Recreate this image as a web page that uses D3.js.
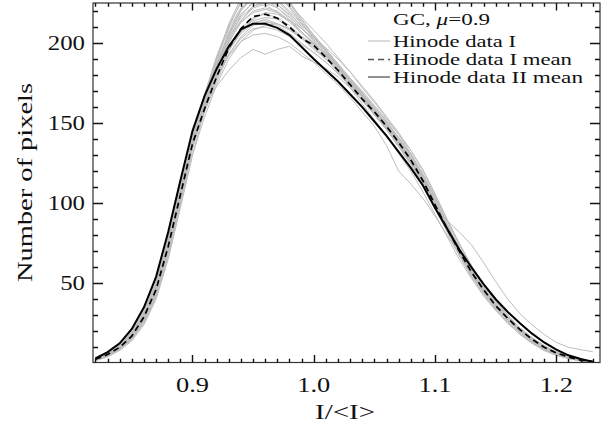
<!DOCTYPE html>
<html>
<head>
<meta charset="utf-8">
<script src="https://cdn.jsdelivr.net/npm/d3@7"></script>
<style>
  body { margin: 0; background: #fff; }
  svg { display: block; font-family: "Liberation Serif", serif; }
</style>
</head>
<body>
<div id="chart"></div>
<script>
// histogram bins, I/<I>
const bins = [0.82,0.83,0.84,0.85,0.86,0.87,0.88,0.89,0.90,0.91,0.92,0.93,0.94,0.95,0.96,0.97,0.98,0.99,1.00,1.01,
  1.02,1.03,1.04,1.05,1.06,1.07,1.08,1.09,1.10,1.11,1.12,1.13,1.14,1.15,1.16,1.17,1.18,1.19,1.20,1.21,1.22,1.23];

// Hinode data I, individual maps (grey)
const hinodeI = [
  [2,4.5,9,15,26,42,68,100,134,160,184,205,220,229,232,230,223,213,204,195,186,176,167,158,149,139,128,115,100,84,69,56,45,35,27,20,14,9,6,3.5,2,1],
  [3,6,11,19,32,50,78,110,140,160,173,183,191,196,193,196,198,192,188,184,179,172,164,156,147,137,126,113,99,85,71,58,47,37,29,22,16,11,7,4,2.5,1.2],
  [2.5,5,10,17,29,47,74,106,137,160,180,196,207,213,214,211,206,200,194,188,181,173,164,155,146,136,125,113,100,89,82,74,63,51,40,31,24,18,13,10,8.5,7.3],
  [2,5,9,16,27,44,70,102,136,163,189,210,226,234,236,233,225,214,205,196,187,177,168,159,150,140,129,116,101,85,70,57,46,36,27,20,14,9.5,6,3.5,2,1],
  [3.5,7,12.5,21,34,53,81,113,143,165,186,201,213,219,221,219,213,206,200,193,185,176,167,158,148,138,127,113,98,83,69,56,45,35,27,20,14,9,6,3.5,2,0.8],
  [1.5,4,8,14,24,40,65,97,130,158,182,200,214,223,226,224,217,209,202,194,186,178,169,160,151,141,130,117,102,86,71,58,46,36,28,21,15,10,6.5,4,2,1],
  [3,6,11,18,31,48,76,108,139,160,178,193,203,209,210,208,204,199,194,188,181,174,166,158,150,141,131,118,104,89,74,61,49,39,30,22,16,11,7,4.5,2.5,1.2],
  [2.5,5,9.5,16.5,28,45,71,104,136,161,183,202,217,226,229,226,219,210,201,192,182,172,162,152,142,131,120,107,93,79,65,53,42,33,25,18,12.5,8,5,3,1.5,0.7],
  [2.5,5.5,10,17,29,46,72,104,136,159,180,197,209,216,218,216,211,204,198,191,183,175,166,157,148,139,128,115,100,85,71,57,46,36,28,21,15,10,6.5,4,2,1],
  [2,5,9.5,16,27,45,70,103,137,163,185,203,214,222,224,219,214,207,199,193,184,176,168,158,149,138,126,114,99,83,69,56,45,35,28,21,14,10,6,4,2,1],
  [3,6.5,12,20,33,51,79,111,141,162,179,192,201,205,206,204,200,194,188,181,174,166,157,148,136,120,112,103,92,80,68,56,45,36,28,21,15,10,6.5,4,2,1],
  [2,4.5,8.5,15,26,43,69,101,134,161,186,206,221,229,231,229,224,216,208,200,191,182,172,163,153,143,131,118,103,87,72,58,47,37,28,21,15,10,6.5,4,2,1],
  [2.5,5.5,10,17,29,46,73,105,136,157,176,193,204,211,213,212,209,204,199,193,186,178,170,161,152,143,133,121,106,90,75,61,49,39,30,22,15.5,10.5,7,4,2,1],
  [3,6,11,19,31,49,77,110,142,166,188,205,218,225,227,224,218,211,204,196,187,178,168,159,149,139,128,116,101,86,71,58,46,36,28,21,15,10,6,3.5,2,1],
  [2,5,9,16,28,45,71,103,135,160,181,198,208,214,216,215,209,203,197,190,183,174,166,156,147,137,126,113,98,83,69,56,45,35,27,20,14,9,6,3.5,2,1],
  [3,6,11.5,19.5,32,50,78,110,143,168,192,211,225,232,234,230,222,212,203,195,186,177,167,158,148,138,126,113,98,83,68,55,44,34,26,19,13,8.5,5.5,3,1.5,0.8],
  [2.5,5.5,10.5,18,30,48,75,108,141,167,191,209,222,228,227,222,215,207,200,193,185,176,167,158,148,138,127,114,99,84,69,56,45,35,27,20,14,9,6,3.5,2,1],
  [2,4.5,8.5,15,25,41,66,98,130,154,174,190,201,208,211,212,209,204,199,193,186,178,169,160,151,141,130,117,102,87,72,59,47,37,29,22,15.5,10.5,7,4,2,1],
  [2.5,5,9.5,16.5,28,46,72,104,137,161,183,201,213,220,222,220,214,207,200,192,184,175,166,157,148,138,127,114,99,84,70,57,46,36,28,21,15,10,6.5,4,2,1],
  [2,4.5,9,15.5,27,44,70,103,137,164,190,212,228,237,239,235,226,215,205,196,186,176,166,156,146,136,125,112,97,82,67,54,43,33,25,18,12.5,8,5,3,1.5,0.7],
  [3,5.5,10,17,29,46,72,104,135,158,178,195,207,215,219,218,214,209,203,197,190,182,173,164,154,144,133,120,105,89,74,60,48,38,29,22,15.5,10.5,7,4,2,1],
  [2.5,5.5,10,17.5,30,47,74,106,138,163,186,204,216,223,225,222,216,209,202,194,185,176,166,157,147,137,125,112,97,82,68,55,44,34,26,19,13.5,9,6,3.5,2,1],
  [3,6,11,18,30,48,75,107,138,161,181,196,206,212,215,212,208,203,196,190,182,173,165,155,146,135,124,111,97,83,69,57,46,36,28,21,15,10,6.5,4,2,1],
  [2,5,9,16,28,45,71,103,136,162,187,207,221,228,230,227,220,212,204,196,187,178,168,158,148,138,127,114,99,84,69,56,45,35,27,20,14,9,6,3.5,2,1]
];

// Hinode data I mean (dashed)
const meanI = [2.5,5.5,10,17,29,46,73,105,137,159,179,197,209,216.5,218,215.5,210,203,198.5,191,183,174,165,157,148,138,127,114,99,84,70,57,46,36,28,21,15,10,6.5,4,2,1];

// Hinode data II mean (solid)
const meanII = [3,7,12.5,21.5,35,54,82,114,145,167,184,198,208.5,212,212,209.5,205,197.5,190,183,176,168,160,151,142,132,122,111,97,84,71,60,49.5,40,32,25,18.5,13,8.5,5,2.7,1];

const xMajor = [0.9, 1.0, 1.1, 1.2];
const xMajorLabels = ["0.9", "1.0", "1.1", "1.2"];
const xMinor = [0.82,0.83,0.84,0.85,0.86,0.87,0.88,0.89,0.91,0.92,0.93,0.94,0.95,0.96,0.97,0.98,0.99,
  1.01,1.02,1.03,1.04,1.05,1.06,1.07,1.08,1.09,1.11,1.12,1.13,1.14,1.15,1.16,1.17,1.18,1.19,1.21,1.22,1.23];
const yMajor = [50, 100, 150, 200];
const yMinor = [10,20,30,40,60,70,80,90,110,120,130,140,160,170,180,190,210,220];

const legendTitle = ["GC, ", "\u03bc", "=0.9"];
const legendItems = ["Hinode data I", "Hinode data I mean", "Hinode data II mean"];

const W = 609, H = 430;
const m = {l: 93, r: 9, t: 3, b: 67.5};
const pL = m.l, pR = W - m.r, pT = m.t, pB = H - m.b;

const svg = d3.select("#chart").append("svg")
  .attr("width", W)
  .attr("height", H);

const x = d3.scaleLinear()
  .domain([0.818, 1.236])
  .range([pL, pR]);

const y = d3.scaleLinear()
  .domain([0.5, 225])
  .range([pB, pT]);

svg.append("clipPath").attr("id", "plotclip")
  .append("rect")
  .attr("x", pL).attr("y", pT)
  .attr("width", pR - pL).attr("height", pB - pT);

const line = d3.line()
  .x((d, i) => x(bins[i]))
  .y(d => y(d));

const curves = svg.append("g").attr("clip-path", "url(#plotclip)");

curves.selectAll(".grey")
  .data(hinodeI)
  .enter().append("path")
  .attr("class", "grey")
  .attr("d", line)
  .attr("fill", "none")
  .attr("stroke", "#bdbdbd")
  .attr("stroke-width", 1);

curves.append("path")
  .attr("d", line(meanI))
  .attr("fill", "none")
  .attr("stroke", "#000")
  .attr("stroke-width", 1.7)
  .attr("stroke-dasharray", "6,4");

curves.append("path")
  .attr("d", line(meanII))
  .attr("fill", "none")
  .attr("stroke", "#000")
  .attr("stroke-width", 2);

// frame
svg.append("rect")
  .attr("x", pL).attr("y", pT)
  .attr("width", pR - pL).attr("height", pB - pT)
  .attr("fill", "none")
  .attr("stroke", "#333")
  .attr("stroke-width", 1.2);

// ticks inward on all four sides (IDL style), as one path built from the scales
const xLen = 7.5, yLen = 10;
const tickPath = d3.path();
[[xMinor, xLen / 2], [xMajor, xLen]].forEach(([vals, len]) => {
  vals.forEach(v => {
    const px = Math.round(x(v)) + 0.5;
    tickPath.moveTo(px, pB); tickPath.lineTo(px, pB - len);
    tickPath.moveTo(px, pT); tickPath.lineTo(px, pT + len);
  });
});
[[yMinor, yLen / 2], [yMajor, yLen]].forEach(([vals, len]) => {
  vals.forEach(v => {
    const py = Math.round(y(v)) + 0.5;
    tickPath.moveTo(pL, py); tickPath.lineTo(pL + len, py);
    tickPath.moveTo(pR, py); tickPath.lineTo(pR - len, py);
  });
});
svg.append("path")
  .attr("d", tickPath.toString())
  .attr("fill", "none")
  .attr("stroke", "#111")
  .attr("stroke-width", 1.4);

// tick labels
svg.append("g").selectAll("text")
  .data(xMajor).enter().append("text")
  .attr("x", d => x(d))
  .attr("y", 392)
  .attr("text-anchor", "middle")
  .attr("font-size", 20)
  .attr("fill", "#111")
  .attr("textLength", 33)
  .attr("lengthAdjust", "spacingAndGlyphs")
  .text((d, i) => xMajorLabels[i]);

svg.append("g").selectAll("text")
  .data(yMajor).enter().append("text")
  .attr("x", 85)
  .attr("y", d => y(d) + 6.6)
  .attr("text-anchor", "end")
  .attr("font-size", 20)
  .attr("fill", "#111")
  .attr("textLength", d => String(d).length * 12.4)
  .attr("lengthAdjust", "spacingAndGlyphs")
  .text(d => d);

// axis titles
svg.append("text")
  .attr("x", 345).attr("y", 419)
  .attr("text-anchor", "middle")
  .attr("font-size", 20)
  .attr("fill", "#111")
  .attr("textLength", 60)
  .attr("lengthAdjust", "spacingAndGlyphs")
  .text("I/<I>");

svg.append("text")
  .attr("transform", "translate(32,182.5) rotate(-90)")
  .attr("text-anchor", "middle")
  .attr("font-size", 20)
  .attr("fill", "#111")
  .attr("textLength", 199)
  .attr("lengthAdjust", "spacingAndGlyphs")
  .text("Number of pixels");

// legend
const lg = svg.append("g").attr("font-size", 16).attr("fill", "#111");
const gc = lg.append("text").attr("x", 393).attr("y", 25)
  .attr("textLength", 97).attr("lengthAdjust", "spacingAndGlyphs");
gc.selectAll("tspan").data(legendTitle).enter().append("tspan")
  .attr("font-style", (d, i) => i === 1 ? "italic" : null)
  .text(d => d);

const rowY = [41, 59.5, 77];
const rowLen = [123, 179, 190];
const rowStroke = ["#c8c8c8", "#555", "#555"];
const rowDash = [null, "6,4", null];
legendItems.forEach((t, i) => {
  lg.append("line")
    .attr("x1", 368).attr("x2", 390)
    .attr("y1", rowY[i]).attr("y2", rowY[i])
    .attr("stroke", rowStroke[i])
    .attr("stroke-width", 1.3)
    .attr("stroke-dasharray", rowDash[i]);
  lg.append("text")
    .attr("x", 393).attr("y", rowY[i] + 5.5)
    .attr("textLength", rowLen[i])
    .attr("lengthAdjust", "spacingAndGlyphs")
    .text(t);
});
</script>
</body>
</html>
